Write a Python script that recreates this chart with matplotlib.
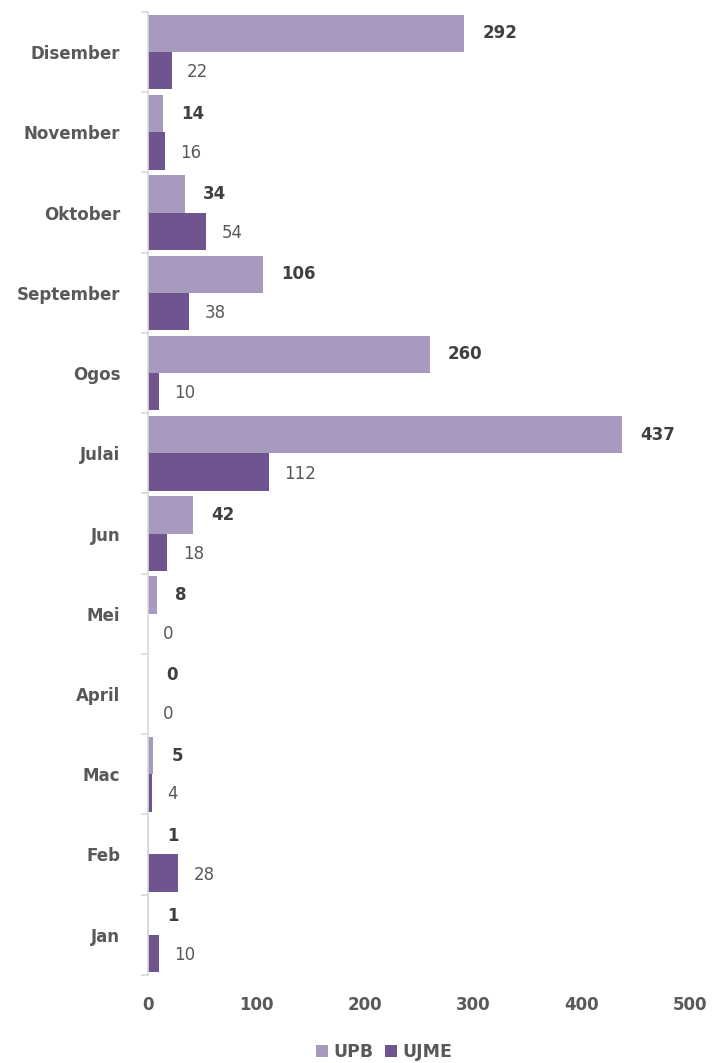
import numpy as np
import matplotlib
matplotlib.use("Agg")
from matplotlib import pyplot as plt

months = ["Jan", "Feb", "Mac", "April", "Mei", "Jun", "Julai", "Ogos",
          "September", "Oktober", "November", "Disember"]
upb = [1, 1, 5, 0, 8, 42, 437, 260, 106, 34, 14, 292]
ujme = [10, 28, 4, 0, 0, 18, 112, 10, 38, 54, 16, 22]

c_upb = "#A899BF"
c_ujme = "#70548F"
grey = "#595959"

plt.rcParams["font.family"] = ["DejaVu Sans"]

fig = plt.figure(figsize=(7.18, 10.63), dpi=100)
ax = fig.add_axes([0.206, 0.083, 0.755, 0.9057])

y = np.arange(len(months))
h = 0.465
ax.barh(y + h / 2, upb, height=h, color=c_upb, label="UPB")
ax.barh(y - h / 2, ujme, height=h, color=c_ujme, label="UJME")

# value labels: UPB bold, UJME regular
for yi, v in zip(y, upb):
    ax.annotate(str(v), (v, yi + h / 2), xytext=(13, 0), textcoords="offset points",
                va="center", ha="left", fontsize=12, fontweight="bold", color="#404040")
for yi, v in zip(y, ujme):
    ax.annotate(str(v), (v, yi - h / 2 - 0.02), xytext=(11, 0), textcoords="offset points",
                va="center", ha="left", fontsize=12, color=grey)

ax.set_xlim(0, 500)
ax.set_ylim(-0.5, len(months) - 0.5)
ax.set_xticks(np.arange(0, 501, 100))
ax.set_yticks(y)
ax.set_yticklabels(months)
ax.set_yticks(np.arange(-0.5, len(months)), minor=True)

for s in ["top", "right", "bottom"]:
    ax.spines[s].set_visible(False)
ax.spines["left"].set_color("#D9D9D9")
ax.spines["left"].set_linewidth(1.2)

ax.tick_params(axis="y", which="major", length=0, pad=20, labelsize=12, labelcolor=grey)
ax.tick_params(axis="y", which="minor", length=5, color="#D9D9D9", width=1.2)
ax.tick_params(axis="x", length=0, pad=15, labelsize=12, labelcolor=grey)
for lab in ax.get_yticklabels() + ax.get_xticklabels():
    lab.set_fontweight("bold")

leg = fig.legend(loc="lower center", bbox_to_anchor=(0.535, -0.013), ncol=2, frameon=False,
                 handlelength=0.7, handleheight=0.7, handletextpad=0.3, columnspacing=0.7,
                 prop={"weight": "bold", "size": 12.5})
for t in leg.get_texts():
    t.set_color(grey)

fig.savefig("out.png", dpi=100)
